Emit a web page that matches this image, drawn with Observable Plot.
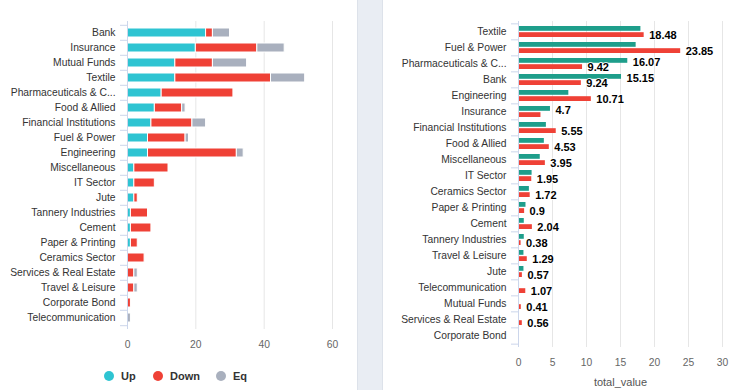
<!DOCTYPE html>
<html><head><meta charset="utf-8">
<script src="https://cdn.jsdelivr.net/npm/d3@7"></script>
<script src="https://cdn.jsdelivr.net/npm/@observablehq/plot@0.6"></script>
<style>
body{margin:0;background:#fff;font-family:"Liberation Sans",Arial,sans-serif;}
#wrap{position:relative;width:730px;height:390px;overflow:hidden;background:#fff}
#left{position:absolute;left:0;top:0}
#sep{position:absolute;left:357px;top:0;width:26px;height:390px;background:#e9edf3;border-left:1px solid #dde2ea;border-right:1px solid #dde2ea;box-sizing:border-box}
#right{position:absolute;left:383px;top:0}
#legend{position:absolute;top:368px;left:0;width:357px;height:16px;}
.li{position:absolute;top:0;display:flex;align-items:center;font-weight:bold;font-size:11px;color:#333;height:16px}
.li span.dot{display:inline-block;width:10px;height:10px;border-radius:50%;margin-right:7px}
</style></head>
<body><div id="wrap"><div id="left"></div><div id="sep"></div><div id="right"></div><div id="legend"></div></div>
<script>
// ---- Left chart data ----
const leftCats = ["Bank","Insurance","Mutual Funds","Textile","Pharmaceuticals & C...","Food & Allied","Financial Institutions","Fuel & Power","Engineering","Miscellaneous","IT Sector","Jute","Tannery Industries","Cement","Paper & Printing","Ceramics Sector","Services & Real Estate","Travel & Leisure","Corporate Bond","Telecommunication"];
const upVals   = [23,20,14,14,10, 8, 7, 6, 6, 2, 2, 2, 1, 1, 1, 0, 0, 0, 0, 0];
const downVals = [ 2,18,11,28,21, 8,12,11,26,10, 6, 1, 5, 6, 2, 5, 2, 2, 1, 0];
const eqVals   = [ 5, 8,10,10, 0, 1, 4, 1, 2, 0, 0, 0, 0, 0, 0, 0, 1, 1, 0, 1];
const leftSeries = ["Up","Down","Eq"];
const leftColors = ["#2ec4d2","#ef4136","#a9b0be"];
const leftTicks = [0,20,40,60];

// ---- Right chart data ----
const rightCats = ["Textile","Fuel & Power","Pharmaceuticals & C...","Bank","Engineering","Insurance","Financial Institutions","Food & Allied","Miscellaneous","IT Sector","Ceramics Sector","Paper & Printing","Cement","Tannery Industries","Travel & Leisure","Jute","Telecommunication","Mutual Funds","Services & Real Estate","Corporate Bond"];
const tealVals = [18.0,17.3,16.07,15.15,7.4,4.7,4.1,3.8,3.2,2.0,1.6,1.1,0.85,0.85,0.8,0.8,0.15,0.15,0.1,0];
const redVals  = [18.48,23.85,9.42,9.24,10.71,3.3,5.55,4.53,3.95,1.95,1.72,0.9,2.04,0.38,1.29,0.57,1.07,0.41,0.56,0];
const tealLabeled = ["Pharmaceuticals & C...","Bank","Insurance"];
const redUnlabeled = ["Insurance","Corporate Bond"];
const rightTicks = [0,5,10,15,20,25,30];
const rightXLabel = "total_value";

const FONT = '"Liberation Sans", Arial, sans-serif';
const axisColor = "#ccd6eb";
const gridColor = "#e6e6e6";

// ---- Left plot ----
const leftData = leftCats.flatMap((c,i)=>[
  {cat:c, series:"Up", value:upVals[i]},
  {cat:c, series:"Down", value:downVals[i]},
  {cat:c, series:"Eq", value:eqVals[i]}
]).filter(d=>d.value>0);
const L = {w:357,h:360,t:21,b:31,l:127,r:25};
const Lstep = (L.h-L.t-L.b)/leftCats.length;
const leftPlot = Plot.plot({
  width:L.w, height:L.h, marginLeft:L.l, marginRight:L.r, marginTop:L.t, marginBottom:L.b,
  style:{fontFamily:FONT, fontSize:"10.3px", color:"#333", background:"transparent"},
  x:{domain:[0,60]},
  y:{domain:leftCats, paddingInner:0.42, paddingOuter:0.21},
  color:{domain:leftSeries, range:leftColors},
  marks:[
    Plot.gridX(leftTicks.slice(1), {stroke:gridColor, strokeOpacity:1}),
    Plot.barX(leftData, {y:"cat", x:"value", fill:"series", stroke:"white", strokeWidth:1}),
    Plot.ruleX([0], {stroke:axisColor}),
    Plot.axisX(leftTicks, {tickSize:0, tickPadding:11, fill:"#666", label:null}),
    Plot.axisY({tickSize:0, tickPadding:12, fill:"#333", label:null}),
    Plot.axisY({tickSize:7, tickFormat:()=>"", stroke:axisColor, dy:-Lstep/2, label:null}),
    Plot.axisY([leftCats[leftCats.length-1]], {tickSize:7, tickFormat:()=>"", stroke:axisColor, dy:Lstep/2, label:null})
  ]
});
document.getElementById("left").appendChild(leftPlot);

// legend
const legendPos = [104,153,216];
const legend = document.getElementById("legend");
leftSeries.forEach((s,i)=>{
  const d = document.createElement("div");
  d.className="li"; d.style.left = legendPos[i]+"px";
  d.innerHTML = `<span class="dot" style="background:${leftColors[i]}"></span>${s}`;
  legend.appendChild(d);
});

// ---- Right plot ----
const R = {w:347,h:390,t:21,b:43,l:135,r:8};
const Rstep = (R.h-R.t-R.b)/rightCats.length;
const Rpad = 0.3;
const Rbw = Rstep*(1-Rpad);
const tealData = rightCats.map((c,i)=>({cat:c, value:tealVals[i]})).filter(d=>d.value>0);
const redData = rightCats.map((c,i)=>({cat:c, value:redVals[i]})).filter(d=>d.value>0);
const rightPlot = Plot.plot({
  width:R.w, height:R.h, marginLeft:R.l, marginRight:R.r, marginTop:R.t, marginBottom:R.b,
  style:{fontFamily:FONT, fontSize:"10.3px", color:"#333", background:"transparent"},
  x:{domain:[0,30]},
  y:{domain:rightCats, paddingInner:Rpad, paddingOuter:Rpad/2},
  marks:[
    Plot.gridX(rightTicks.slice(1), {stroke:gridColor, strokeOpacity:1}),
    Plot.barX(tealData, {y:"cat", x:"value", fill:"#1e9e8b", insetBottom:Rbw/2+0.5}),
    Plot.barX(redData, {y:"cat", x:"value", fill:"#ef4136", insetTop:Rbw/2+0.5}),
    Plot.ruleX([0], {stroke:axisColor}),
    Plot.text(tealData.filter(d=>tealLabeled.includes(d.cat)), {y:"cat", x:"value", text:d=>String(d.value), textAnchor:"start", dx:5, dy:-Rbw/4+1, fontWeight:"bold", fontSize:11, fill:"#000", stroke:"white", strokeWidth:1.5, paintOrder:"stroke"}),
    Plot.text(redData.filter(d=>!redUnlabeled.includes(d.cat)), {y:"cat", x:"value", text:d=>String(d.value), textAnchor:"start", dx:5, dy:Rbw/4+1, fontWeight:"bold", fontSize:11, fill:"#000", stroke:"white", strokeWidth:1.5, paintOrder:"stroke"}),
    Plot.axisX(rightTicks, {tickSize:0, tickPadding:11, fill:"#666", label:null}),
    Plot.axisX({tickSize:0, ticks:[], label:rightXLabel, labelAnchor:"center", labelArrow:"none", labelOffset:38, fontSize:11, fill:"#555"}),
    Plot.axisY({tickSize:0, tickPadding:12, fill:"#333", label:null}),
    Plot.axisY({tickSize:7, tickFormat:()=>"", stroke:axisColor, dy:-Rstep/2, label:null}),
    Plot.axisY([rightCats[rightCats.length-1]], {tickSize:7, tickFormat:()=>"", stroke:axisColor, dy:Rstep/2, label:null})
  ]
});
document.getElementById("right").appendChild(rightPlot);
</script></body></html>
